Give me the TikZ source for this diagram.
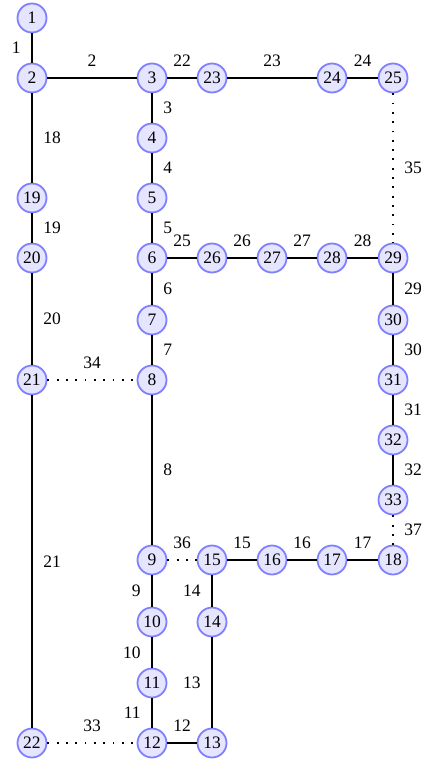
\documentclass[tikz,border=0pt]{standalone}
\usepackage{fontspec}
\setmainfont{Liberation Serif}
\begin{document}
\begin{tikzpicture}[x=1pt,y=-1pt,
  fs/.style={font=\fontsize{17.5}{17.5}\selectfont},
  bus/.style={circle,draw=blue!50,fill=blue!10,line width=1.8pt,minimum size=29pt,inner sep=0pt,fs},
  ln/.style={line width=1.7pt},
  dl/.style={line width=1.8pt,dash pattern=on 1.8pt off 7.5pt},
  la/.style={midway,inner sep=0pt,yshift=17pt,fs},
  lr/.style={midway,inner sep=0pt,anchor=west,xshift=10.5pt,fs},
  ll/.style={midway,inner sep=0pt,anchor=east,xshift=-10.5pt,fs}]
\useasboundingbox (0,0) rectangle (427,762);
% nodes
\node[bus] (n1) at (32,18) {1};
\node[bus] (n2) at (32,78) {2};
\node[bus] (n3) at (152,78) {3};
\node[bus] (n23) at (212,78) {23};
\node[bus] (n24) at (332,78) {24};
\node[bus] (n25) at (393,78) {25};
\node[bus] (n4) at (152,138) {4};
\node[bus] (n5) at (152,198) {5};
\node[bus] (n19) at (32,198) {19};
\node[bus] (n6) at (152,258) {6};
\node[bus] (n20) at (32,258) {20};
\node[bus] (n26) at (212,258) {26};
\node[bus] (n27) at (272,258) {27};
\node[bus] (n28) at (332,258) {28};
\node[bus] (n29) at (393,258) {29};
\node[bus] (n7) at (152,320) {7};
\node[bus] (n30) at (393,320) {30};
\node[bus] (n21) at (32,380) {21};
\node[bus] (n8) at (152,380) {8};
\node[bus] (n31) at (393,380) {31};
\node[bus] (n32) at (393,440) {32};
\node[bus] (n33) at (393,500) {33};
\node[bus] (n9) at (152,560) {9};
\node[bus] (n15) at (212,560) {15};
\node[bus] (n16) at (272,560) {16};
\node[bus] (n17) at (332,560) {17};
\node[bus] (n18) at (393,560) {18};
\node[bus] (n10) at (152,622) {10};
\node[bus] (n14) at (212,622) {14};
\node[bus] (n11) at (152,683) {11};
\node[bus] (n22) at (32,743) {22};
\node[bus] (n12) at (152,743) {12};
\node[bus] (n13) at (212,743) {13};
% edges
\draw[ln] (n1) -- node[ll] {1} (n2);
\draw[ln] (n2) -- node[la] {2} (n3);
\draw[ln] (n3) -- node[la] {22} (n23);
\draw[ln] (n23) -- node[la] {23} (n24);
\draw[ln] (n24) -- node[la] {24} (n25);
\draw[ln] (n3) -- node[lr] {3} (n4);
\draw[ln] (n4) -- node[lr] {4} (n5);
\draw[ln] (n5) -- node[lr] {5} (n6);
\draw[ln] (n6) -- node[la] {25} (n26);
\draw[ln] (n26) -- node[la] {26} (n27);
\draw[ln] (n27) -- node[la] {27} (n28);
\draw[ln] (n28) -- node[la] {28} (n29);
\draw[ln] (n6) -- node[lr] {6} (n7);
\draw[ln] (n7) -- node[lr] {7} (n8);
\draw[ln] (n8) -- node[lr] {8} (n9);
\draw[ln] (n2) -- node[lr] {18} (n19);
\draw[ln] (n19) -- node[lr] {19} (n20);
\draw[ln] (n20) -- node[lr] {20} (n21);
\draw[ln] (n21) -- node[lr] {21} (n22);
\draw[ln] (n29) -- node[lr] {29} (n30);
\draw[ln] (n30) -- node[lr] {30} (n31);
\draw[ln] (n31) -- node[lr] {31} (n32);
\draw[ln] (n32) -- node[lr] {32} (n33);
\draw[ln] (n15) -- node[la] {15} (n16);
\draw[ln] (n16) -- node[la] {16} (n17);
\draw[ln] (n17) -- node[la] {17} (n18);
\draw[ln] (n9) -- node[ll] {9} (n10);
\draw[ln] (n15) -- node[ll] {14} (n14);
\draw[ln] (n10) -- node[ll] {10} (n11);
\draw[ln] (n14) -- node[ll] {13} (n13);
\draw[ln] (n11) -- node[ll] {11} (n12);
\draw[ln] (n12) -- node[la] {12} (n13);
% dotted ties
\draw[dl] (n21) -- node[la] {34} (n8);
\draw[dl] (n25) -- node[lr] {35} (n29);
\draw[dl] (n33) -- node[lr] {37} (n18);
\draw[dl] (n9) -- node[la] {36} (n15);
\draw[dl] (n22) -- node[la] {33} (n12);
\end{tikzpicture}
\end{document}
